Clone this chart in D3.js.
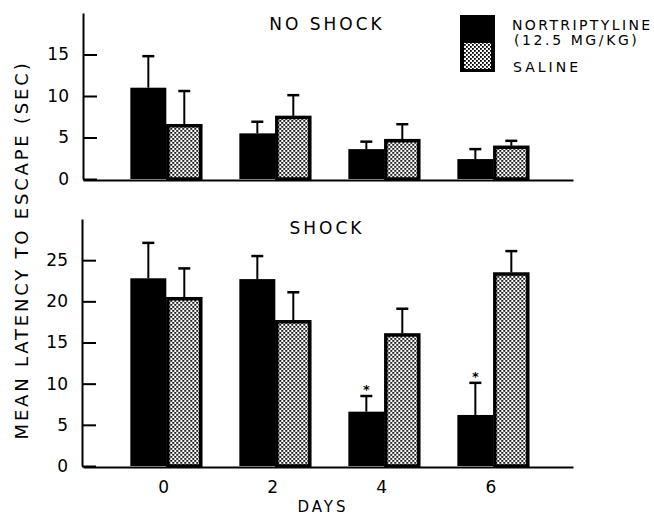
<!DOCTYPE html>
<html>
<head>
<meta charset="utf-8">
<script src="https://cdn.jsdelivr.net/npm/d3@7"></script>
<style>
  html, body { margin: 0; padding: 0; background: #fff; }
  svg { display: block; }
  text { font-family: "DejaVu Sans", sans-serif; fill: #000; }
</style>
</head>
<body>
<svg id="chart" width="654" height="516"></svg>
<script>
// ---- data ----
const days = ["0", "2", "4", "6"];
const seriesNames = ["NORTRIPTYLINE (12.5 MG/KG)", "SALINE"];
const noShockNortriptyline = [11.0, 5.5, 3.6, 2.4];
const noShockNortriptylineErr = [3.8, 1.4, 0.9, 1.2];
const noShockSaline = [6.6, 7.6, 4.8, 4.0];
const noShockSalineErr = [4.0, 2.5, 1.8, 0.6];
const shockNortriptyline = [22.8, 22.7, 6.6, 6.2];
const shockNortriptylineErr = [4.3, 2.8, 1.9, 3.9];
const shockSaline = [20.5, 17.7, 16.1, 23.5];
const shockSalineErr = [3.5, 3.4, 3.0, 2.6];
const shockSignificant = [false, false, true, true];
const noShockTicks = [0, 5, 10, 15];
const shockTicks = [0, 5, 10, 15, 20, 25];

const svg = d3.select("#chart");

// pattern for saline
const defs = svg.append("defs");
const pat = defs.append("pattern").attr("id", "dots")
  .attr("patternUnits", "userSpaceOnUse").attr("width", 4).attr("height", 4);
pat.append("rect").attr("width", 4).attr("height", 4).attr("fill", "#fff");
pat.append("rect").attr("x", 0).attr("y", 0).attr("width", 1.8).attr("height", 1.8).attr("fill", "#000");
pat.append("rect").attr("x", 2).attr("y", 2).attr("width", 1.8).attr("height", 1.8).attr("fill", "#000");

const x = d3.scaleBand().domain(days).range([83, 573])
  .paddingInner(0.34).paddingOuter(0.4176).align(0.52);
const xSub = d3.scaleBand().domain(["nor", "sal"]).range([0, x.bandwidth()]);

function panel(opts) {
  const y = d3.scaleLinear().domain(opts.domain).range(opts.range);
  const g = svg.append("g");
  const rows = days.map((d, i) => ({
    day: d,
    nor: opts.nor[i], norErr: opts.norErr[i],
    sal: opts.sal[i], salErr: opts.salErr[i],
    sig: opts.sig ? opts.sig[i] : false
  }));

  // y axis
  const ya = g.append("g").attr("transform", `translate(${opts.axisX},0)`)
    .call(d3.axisLeft(y).tickValues(opts.ticks).tickSizeInner(-14).tickSizeOuter(0).tickPadding(14));
  ya.selectAll("path, line").attr("stroke", "#000").attr("stroke-width", 2);
  ya.selectAll("text").style("font-size", "17px").style("font-family", "DejaVu Sans");

  // x axis
  const xa = g.append("g").attr("transform", `translate(0,${y(0) + 1})`)
    .call(d3.axisBottom(x).tickSize(0).tickPadding(14));
  xa.select(".domain").attr("stroke", "#000").attr("stroke-width", 2);
  if (opts.showX) {
    xa.selectAll("text").style("font-size", "17px").style("font-family", "DejaVu Sans").attr("dx", "-0.15em");
  } else {
    xa.selectAll("text").remove();
  }

  const grp = g.selectAll("g.grp").data(rows).join("g").attr("class", "grp")
    .attr("transform", d => `translate(${x(d.day)},0)`);

  // error bars (behind bars)
  const errs = [];
  rows.forEach(r => {
    errs.push({ day: r.day, key: "nor", v: r.nor, e: r.norErr, sig: r.sig });
    errs.push({ day: r.day, key: "sal", v: r.sal, e: r.salErr, sig: false });
  });
  const eg = g.selectAll("g.err").data(errs).join("g").attr("class", "err")
    .attr("transform", d => `translate(${x(d.day) + xSub(d.key) + xSub.bandwidth() / 2},0)`);
  eg.append("line").attr("x1", 0).attr("x2", 0)
    .attr("y1", d => y(d.v)).attr("y2", d => y(d.v + d.e))
    .attr("stroke", "#000").attr("stroke-width", 2);
  eg.append("line").attr("x1", -6).attr("x2", 6)
    .attr("y1", d => y(d.v + d.e)).attr("y2", d => y(d.v + d.e))
    .attr("stroke", "#000").attr("stroke-width", 2.5);
  eg.filter(d => d.sig).append("text")
    .attr("x", 0).attr("y", d => y(d.v + d.e) - 2)
    .attr("text-anchor", "middle").style("font-size", "13px").style("font-weight", "bold").text("*");

  // bars
  grp.append("rect")
    .attr("x", xSub("nor")).attr("width", xSub.bandwidth())
    .attr("y", d => y(d.nor)).attr("height", d => y(0) - y(d.nor))
    .attr("fill", "#000");
  grp.append("rect")
    .attr("x", xSub("sal") + 1.5).attr("width", xSub.bandwidth() - 3)
    .attr("y", d => y(d.sal) + 1.5).attr("height", d => y(0) - y(d.sal) - 1.5)
    .attr("fill", "url(#dots)").attr("stroke", "#000").attr("stroke-width", 3.5);

  // title
  g.append("text").attr("x", 327).attr("y", opts.titleY)
    .attr("text-anchor", "middle").style("font-size", "17px").style("letter-spacing", "3px")
    .text(opts.title);
  return y;
}

panel({
  domain: [0, 20], range: [179, 13], axisX: 83, ticks: noShockTicks,
  nor: noShockNortriptyline, norErr: noShockNortriptylineErr,
  sal: noShockSaline, salErr: noShockSalineErr,
  title: "NO SHOCK", titleY: 30, showX: false
});
panel({
  domain: [0, 30], range: [466, 219], axisX: 82, ticks: shockTicks,
  nor: shockNortriptyline, norErr: shockNortriptylineErr,
  sal: shockSaline, salErr: shockSalineErr, sig: shockSignificant,
  title: "SHOCK", titleY: 234, showX: true
});

// axis titles
svg.append("text").attr("transform", "translate(28,250) rotate(-90)")
  .attr("text-anchor", "middle").style("font-size", "18px").style("letter-spacing", "2.8px")
  .text("MEAN LATENCY TO ESCAPE (SEC)");
svg.append("text").attr("x", 323).attr("y", 512)
  .attr("text-anchor", "middle").style("font-size", "15px").style("letter-spacing", "3px")
  .text("DAYS");

// legend
const lg = svg.append("g");
lg.append("rect").attr("x", 460).attr("y", 15).attr("width", 35).attr("height", 57).attr("fill", "#000");
lg.append("rect").attr("x", 464).attr("y", 43).attr("width", 27).attr("height", 26).attr("fill", "url(#dots)");
lg.append("text").attr("x", 512).attr("y", 30).style("font-size", "14px").style("letter-spacing", "2.4px")
  .text(seriesNames[0].split(" (")[0]);
lg.append("text").attr("x", 514).attr("y", 45).style("font-size", "14px").style("letter-spacing", "2.6px")
  .text("(" + seriesNames[0].split(" (")[1]);
lg.append("text").attr("x", 513).attr("y", 72).style("font-size", "14px").style("letter-spacing", "3px")
  .text(seriesNames[1]);
</script>
</body>
</html>
